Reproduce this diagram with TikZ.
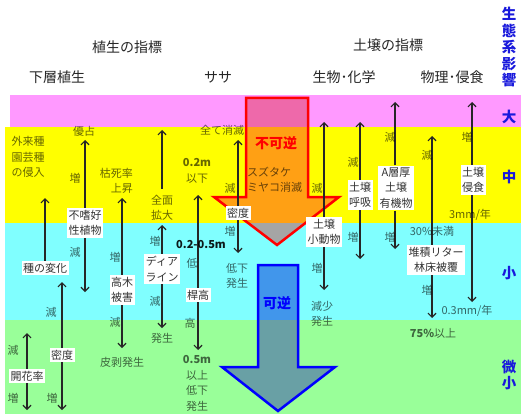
\documentclass[tikz,border=0pt]{standalone}
\usepackage{fontspec}
\setmainfont{Noto Sans CJK JP}
\usetikzlibrary{arrows.meta}
\pgfdeclarelayer{bg}
\pgfdeclarelayer{mid}
\pgfsetlayers{bg,mid,main}
\definecolor{bandpink}{RGB}{255,153,255}
\definecolor{bandyellow}{RGB}{255,255,0}
\definecolor{bandcyan}{RGB}{128,255,255}
\definecolor{bandgreen}{RGB}{153,255,153}
\definecolor{rpink}{RGB}{238,105,170}
\definecolor{rorange}{RGB}{255,160,20}
\definecolor{rgray}{RGB}{165,165,165}
\definecolor{bblue}{RGB}{65,150,235}
\definecolor{bgray}{RGB}{105,160,165}
\definecolor{lblblue}{RGB}{25,25,220}
\newcommand\myfbody{\fontsize{11pt}{15.5pt}\selectfont}
\newcommand\myfhead{\fontsize{14pt}{16pt}\selectfont}
\newcommand\myfblue{\fontsize{14.5pt}{16.5pt}\selectfont}
\begin{document}
\begin{tikzpicture}[x=1pt,y=-1pt,
  box/.style={fill=white, inner xsep=1.5pt, inner ysep=2pt, align=center, text=black!80, font=\myfbody},
  txt/.style={inner sep=0pt, align=center, text=black, text opacity=0.6, font=\myfbody},
  hdr/.style={inner sep=0pt, text=black!85, font=\myfhead},
  blu/.style={inner sep=0pt, align=center, text=lblblue, font=\myfblue\bfseries},
  arr/.style={draw=black!85, line width=1.2pt, -{Straight Barb[length=4pt,width=8pt]}},
  bigred/.style={draw=red, line width=2.5pt, line join=miter},
  bigblue/.style={draw=blue, line width=2.5pt, line join=miter}
]
\useasboundingbox (0,0) rectangle (521,414);
\begin{pgfonlayer}{bg}
  \fill[white] (0,0) rectangle (521,414);
  \fill[bandpink] (10,95) rectangle (521,127);
  \fill[bandyellow] (5,127) rectangle (521,223);
  \fill[bandcyan] (5,223) rectangle (521,320);
  \fill[bandgreen] (5,320) rectangle (521,414);
  % red arrow
  \begin{scope}
    \clip (246,98) -- (308,98) -- (308,197) -- (339,197) -- (277,245) -- (214,197) -- (246,197) -- cycle;
    \fill[rpink] (0,0) rectangle (521,127);
    \fill[rorange] (0,127) rectangle (521,223);
    \fill[rgray] (0,223) rectangle (521,414);
  \end{scope}
  \draw[bigred] (246,98) -- (308,98) -- (308,197) -- (339,197) -- (277,245) -- (214,197) -- (246,197) -- cycle;
  % blue arrow
  \begin{scope}
    \clip (258,265) -- (298,265) -- (298,367) -- (335,367) -- (278,411) -- (222,367) -- (258,367) -- cycle;
    \fill[bblue] (0,0) rectangle (521,320);
    \fill[bgray] (0,320) rectangle (521,414);
  \end{scope}
  \draw[bigblue] (258,265) -- (298,265) -- (298,367) -- (335,367) -- (278,411) -- (222,367) -- (258,367) -- cycle;
\end{pgfonlayer}

% headers
\node[hdr] (h1) at (127,47) {植生の指標};
\node[hdr] (h2) at (388,45) {土壌の指標};
\node[hdr] (h3) at (57,77) {下層植生};
\node[hdr] (h4) at (218,77) {ササ};
\node[hdr] (h5) at (344,77) {生物･化学};
\node[hdr] (h6) at (452,77) {物理･侵食};

% blue impact labels
\node[blu] (eco) at (509,47) {生\\態\\系\\影\\響};
\node[blu] (big) at (509,117) {大};
\node[blu] (mid) at (509,177) {中};
\node[blu] (sml) at (509,273) {小};
\node[blu] (tiny) at (509,375) {微\\小};

% big arrow labels
\node[inner sep=0pt, text=red, font=\myfhead\bfseries] (irr) at (276,143) {不可逆};
\node[txt, align=left, anchor=west] (suzu) at (247,180) {スズタケ\\ミヤコ消滅};
\node[inner sep=0pt, text=blue, font=\myfhead\bfseries] (rev) at (277,303) {可逆};

% column A
\node[txt, align=left] (tA) at (28,157) {外来種\\園芸種\\の侵入};
\node[box] (bA) at (45,268) {種の変化};
\coordinate (cA) at (45,198);
\node[box] (bA2) at (62,355) {密度};
\coordinate (cA2t) at (62,282);
\coordinate (cA2b) at (62,410);
\node[txt] (lA2a) at (51,312) {減};
\node[txt] (lA2b) at (52,398) {増};
\node[box] (bA3) at (27,376) {開花率};
\coordinate (cA3t) at (27,333);
\coordinate (cA3b) at (27,410);
\node[txt] (lA3a) at (13,350) {減};
\node[txt] (lA3b) at (13,398) {増};

% column B
\node[txt] (tB) at (84,131) {優占};
\node[box] (bB) at (85,223) {不嗜好\\性植物};
\coordinate (cBt) at (85,140);
\coordinate (cBb) at (85,292);
\node[txt] (lBa) at (75,178) {増};
\node[txt] (lBb) at (75,252) {減};

% column C
\node[txt, align=right, anchor=east] (tC) at (133,181) {枯死率\\上昇};
\node[box] (bC) at (122,290) {高木\\被害};
\coordinate (cCt) at (122,198);
\coordinate (cCb) at (122,348);
\node[txt] (lCa) at (115,257) {増};
\node[txt] (lCb) at (115,322) {減};
\node[txt] (tC2) at (122,362) {皮剥発生};

% column D
\node[txt] (tD) at (162,208) {全面\\拡大};
\coordinate (cD0) at (162,130);
\node[box] (bD) at (162,269) {ディア\\ライン};
\coordinate (cDt) at (162,225);
\coordinate (cDb) at (162,328);
\node[txt] (lDa) at (155,241) {増};
\node[txt] (lDb) at (155,301) {減};
\node[txt] (tD2) at (162,338) {発生};

% column E1 (x=198)
\node[txt] (tE1) at (197,171) {\textbf{0.2m}\\以下};
\node[txt, text opacity=0.9] (tE1b) at (201,245) {\textbf{0.2-0.5m}};
\node[txt] (lE1a) at (192,263) {低};
\node[box] (bE1) at (198,295) {桿高};
\coordinate (cE1t) at (198,195);
\coordinate (cE1b) at (198,350);
\node[txt] (lE1b) at (190,323) {高};
\node[txt] (tE1c) at (197,383.5) {\textbf{0.5m}\\以上\\低下\\発生};

% column E2 (x=238)
\node[txt] (tE2) at (222,130) {全て消滅};
\node[box] (bE2) at (238,213) {密度};
\coordinate (cE2t) at (238,140);
\coordinate (cE2b) at (238,253);
\node[txt] (lE2a) at (230,188) {減};
\node[txt] (lE2b) at (230,231) {増};
\node[txt] (tE2b) at (237,276) {低下\\発生};

% column F1 (x=324)
\node[txt] (lF1a) at (317,188) {減};
\node[box] (bF1) at (324,232) {土壌\\小動物};
\coordinate (cF1t) at (324,122);
\coordinate (cF1b) at (324,290);
\node[txt] (lF1b) at (317,268) {増};
\node[txt] (tF1) at (322,314) {減少\\発生};

% column F2 (x=360)
\node[txt] (lF2a) at (353,162) {減};
\node[box] (bF2) at (360,195) {土壌\\呼吸};
\coordinate (cF2t) at (360,122);
\coordinate (cF2b) at (360,259);
\node[txt] (lF2b) at (353,237) {増};

% column F3 (x=395)
\node[txt] (lF3a) at (390,137) {減};
\node[box] (bF3) at (396,188) {A層厚\\土壌\\有機物};
\coordinate (cF3t) at (395,102);
\coordinate (cF3b) at (395,249);
\node[txt] (lF3b) at (390,237) {増};

% column G1 (x=432)
\node[txt] (lG1a) at (427,155) {減};
\node[txt] (tG1) at (432,231) {30\%未満};
\node[box] (bG1) at (436,260) {堆積リター\\林床被覆};
\coordinate (cG1t) at (432,136);
\coordinate (cG1b) at (432,318);
\node[txt] (lG1b) at (427,290) {増};
\node[txt] (tG1b) at (433,333) {\textbf{75\%}以上};

% column G2 (x=472)
\node[txt] (lG2a) at (467,137) {増};
\node[box] (bG2) at (473,180) {土壌\\侵食};
\coordinate (cG2t) at (472,102);
\coordinate (cG2b) at (472,302);
\node[txt] (tG2) at (470,215) {3mm/年};
\node[txt] (tG2b) at (467,311) {0.3mm/年};

% connectors
\begin{pgfonlayer}{mid}
  \draw[arr] (bA.north -| cA) -- (cA);
  \draw[arr] (bA2.north -| cA2t) -- (cA2t);
  \draw[arr] (bA2.south -| cA2b) -- (cA2b);
  \draw[arr] (bA3.north -| cA3t) -- (cA3t);
  \draw[arr] (bA3.south -| cA3b) -- (cA3b);
  \draw[arr] (bB.north -| cBt) -- (cBt);
  \draw[arr] (bB.south -| cBb) -- (cBb);
  \draw[arr] (bC.north -| cCt) -- (cCt);
  \draw[arr] (bC.south -| cCb) -- (cCb);
  \draw[arr] (tD.north -| cD0) ++(0,-6) -- (cD0);
  \draw[arr] (bD.north -| cDt) -- (cDt);
  \draw[arr] (bD.south -| cDb) -- (cDb);
  \draw[arr] (bE1.north -| cE1t) -- (cE1t);
  \draw[arr] (bE1.south -| cE1b) -- (cE1b);
  \draw[arr] (bE2.north -| cE2t) -- (cE2t);
  \draw[arr] (bE2.south -| cE2b) -- (cE2b);
  \draw[arr] (bF1.north -| cF1t) -- (cF1t);
  \draw[arr] (bF1.south -| cF1b) -- (cF1b);
  \draw[arr] (bF2.north -| cF2t) -- (cF2t);
  \draw[arr] (bF2.south -| cF2b) -- (cF2b);
  \draw[arr] (bF3.north -| cF3t) -- (cF3t);
  \draw[arr] (bF3.south -| cF3b) -- (cF3b);
  \draw[arr] (bG1.north -| cG1t) -- (cG1t);
  \draw[arr] (bG1.south -| cG1b) -- (cG1b);
  \draw[arr] (bG2.north -| cG2t) -- (cG2t);
  \draw[arr] (bG2.south -| cG2b) -- (cG2b);
\end{pgfonlayer}
\end{tikzpicture}
\end{document}
